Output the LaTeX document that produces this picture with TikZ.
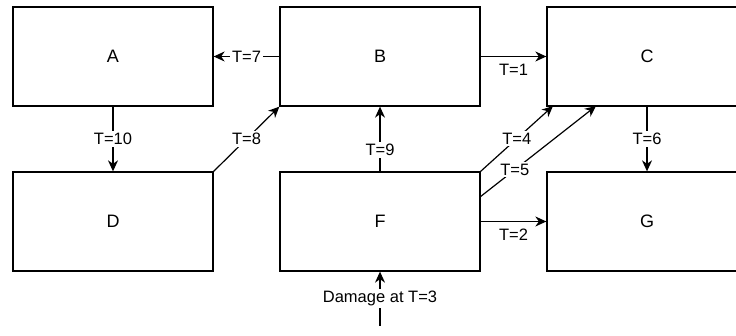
\documentclass[tikz,border=0pt]{standalone}
\usepackage{fontspec}
\setmainfont{Liberation Sans}
\usetikzlibrary{arrows.meta}

\begin{document}
\begin{tikzpicture}[
      x=1pt, y=-1pt,
      every node/.style={font=\fontsize{16.5}{19}\selectfont},
      blk/.style={draw, line width=1.3pt, minimum width=200pt, minimum height=99pt,
        inner sep=0pt, font=\fontsize{18}{21}\selectfont},
      lbl/.style={fill=white, inner sep=2pt},
      conn/.style={line width=1.2pt, -{Stealth[length=11pt, width=10pt, inset=3.5pt]}},
    ]
    \useasboundingbox (0,0) rectangle (736,336);

    \node[blk] (A) at (113, 56.5) {A};
    \node[blk] (B) at (380, 56.5) {B};
    \node[blk] (C) at (647, 56.5) {C};
    \node[blk] (D) at (113, 221.5) {D};
    \node[blk] (F) at (380, 221.5) {F};
    \node[blk] (G) at (647, 221.5) {G};

    \coordinate (c4) at (553, 106);
    \coordinate (c5) at (596, 106);
    \coordinate (f5) at (480, 197);
    \coordinate (dmg) at (380, 326);

    \draw[conn] (B.west) -- node[lbl] {T=7} (A.east);
    \draw[conn] (A.south) -- node[lbl] {T=10} (D.north);
    \draw[conn] (D.north east) -- node[lbl] {T=8} (B.south west);
    \draw[conn] (B.east) -- node[below=4pt] {T=1} (C.west);
    \draw[conn] (F.north) -- node[lbl, pos=0.33] {T=9} (B.south);
    \draw[conn] (F.north east) -- node[lbl] {T=4} (c4);
    \draw[conn] (f5) -- node[lbl, pos=0.3] {T=5} (c5);
    \draw[conn] (F.east) -- node[below=4pt] {T=2} (G.west);
    \draw[conn] (C.south) -- node[lbl] {T=6} (G.north);
    \draw[conn] (dmg) -- node[lbl] {Damage at T=3} (F.south);
  \end{tikzpicture}
\end{document}
